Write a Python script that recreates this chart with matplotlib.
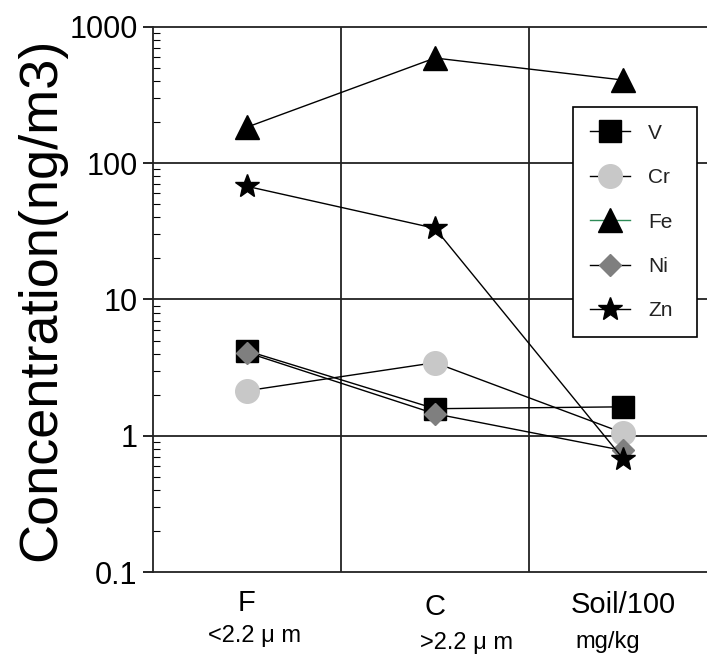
import numpy as np
import matplotlib
matplotlib.use("Agg")
import matplotlib.pyplot as plt
from matplotlib.lines import Line2D

plt.rcParams['font.family'] = ['Liberation Sans', 'DejaVu Sans']

# size fractions / soil
categories = ["F", "C", "Soil/100"]
sublabels = ["<2.2 μ m", ">2.2 μ m", "mg/kg"]
cat_dy = [-31, -35, -33]
sub_x = [0.54, 1.67, 2.42]
sub_dy = [-64, -71, -70]

# concentrations (ng/m3), soil values divided by 100
V = [4.2, 1.58, 1.63]
Cr = [2.14, 3.44, 1.05]
Fe = [184, 592, 408]
Ni = [4.08, 1.45, 0.78]
Zn = [67.7, 33.3, 0.68]

x = np.arange(len(categories)) + 0.5

fig = plt.figure(figsize=(7.07, 6.55), dpi=100)
ax = fig.add_axes([0.2164, 0.1267, 0.7836, 0.8321])

ax.set_yscale('log')
ax.set_ylim(0.1, 1000)
ax.set_xlim(0, 2.947)

# grid: decades and column separators
for yv in [1, 10, 100]:
    ax.axhline(yv, color='#222222', lw=1.3, zorder=1)
for xv in [1, 2]:
    ax.axvline(xv, color='#222222', lw=1.3, zorder=1)

lkw = dict(color='black', lw=1.0, zorder=3)
ax.plot(x, V, marker='s', ms=16, mfc='black', mec='black', **lkw)
ax.plot(x, Cr, marker='o', ms=17, mfc='#c8c8c8', mec='#c8c8c8', **lkw)
ax.plot(x, Fe, marker='^', ms=17, mfc='black', mec='black', **lkw)
ax.plot(x, Ni, marker='D', ms=11.5, mfc='#7f7f7f', mec='#7f7f7f', **lkw)
ax.plot(x, Zn, marker='*', ms=18, mfc='black', mec='black', **lkw)

handles = [
    Line2D([], [], color='black', lw=1, marker='s', ms=16, mfc='black', mec='black'),
    Line2D([], [], color='black', lw=1, marker='o', ms=17, mfc='#c8c8c8', mec='#c8c8c8'),
    Line2D([], [], color='#2e8b57', lw=1, marker='^', ms=17, mfc='black', mec='black'),
    Line2D([], [], color='black', lw=1, marker='D', ms=11.5, mfc='#7f7f7f', mec='#7f7f7f'),
    Line2D([], [], color='black', lw=1, marker='*', ms=18, mfc='black', mec='black'),
]
leg = ax.legend(handles, ["V", "Cr", "Fe", "Ni", "Zn"], loc='upper left',
                bbox_to_anchor=(0.758, 0.853 - 0.41, 0.2238, 0.41), mode='expand',
                fontsize=15, frameon=True,
                fancybox=False, edgecolor='black', framealpha=1,
                handlelength=1.95, labelspacing=1.22, borderpad=0.8,
                handletextpad=0.85, borderaxespad=0)
leg.get_frame().set_linewidth(1.2)
leg.set_zorder(5)
for t in leg.get_texts():
    t.set_color('#222222')

ax.spines['right'].set_visible(False)
for s in ['left', 'top', 'bottom']:
    ax.spines[s].set_linewidth(1.3)
    ax.spines[s].set_color('#222222')

ax.set_yticks([0.1, 1, 10, 100, 1000])
ax.set_yticklabels(["0.1", "1", "10", "100", "1000"], fontsize=22)
ax.tick_params(axis='y', which='major', direction='out', length=7, width=1.2, pad=4)
ax.tick_params(axis='y', which='minor', direction='in', length=5, width=0.8)

# category labels with their size ranges underneath
ax.set_xticks([])
px = 72 / fig.dpi
for xc, dy, t in zip(x, cat_dy, categories):
    ax.annotate(t, xy=(xc, 0), xycoords=('data', 'axes fraction'),
                xytext=(0, dy * px), textcoords='offset points',
                ha='center', va='center', fontsize=21)
for xs, dy, t in zip(sub_x, sub_dy, sublabels):
    ax.annotate(t, xy=(xs, 0), xycoords=('data', 'axes fraction'),
                xytext=(0, dy * px), textcoords='offset points',
                ha='center', va='center', fontsize=17)

ax.set_ylabel("Concentration(ng/m3)", fontsize=39, labelpad=2)

fig.savefig("out.png", dpi=100)
